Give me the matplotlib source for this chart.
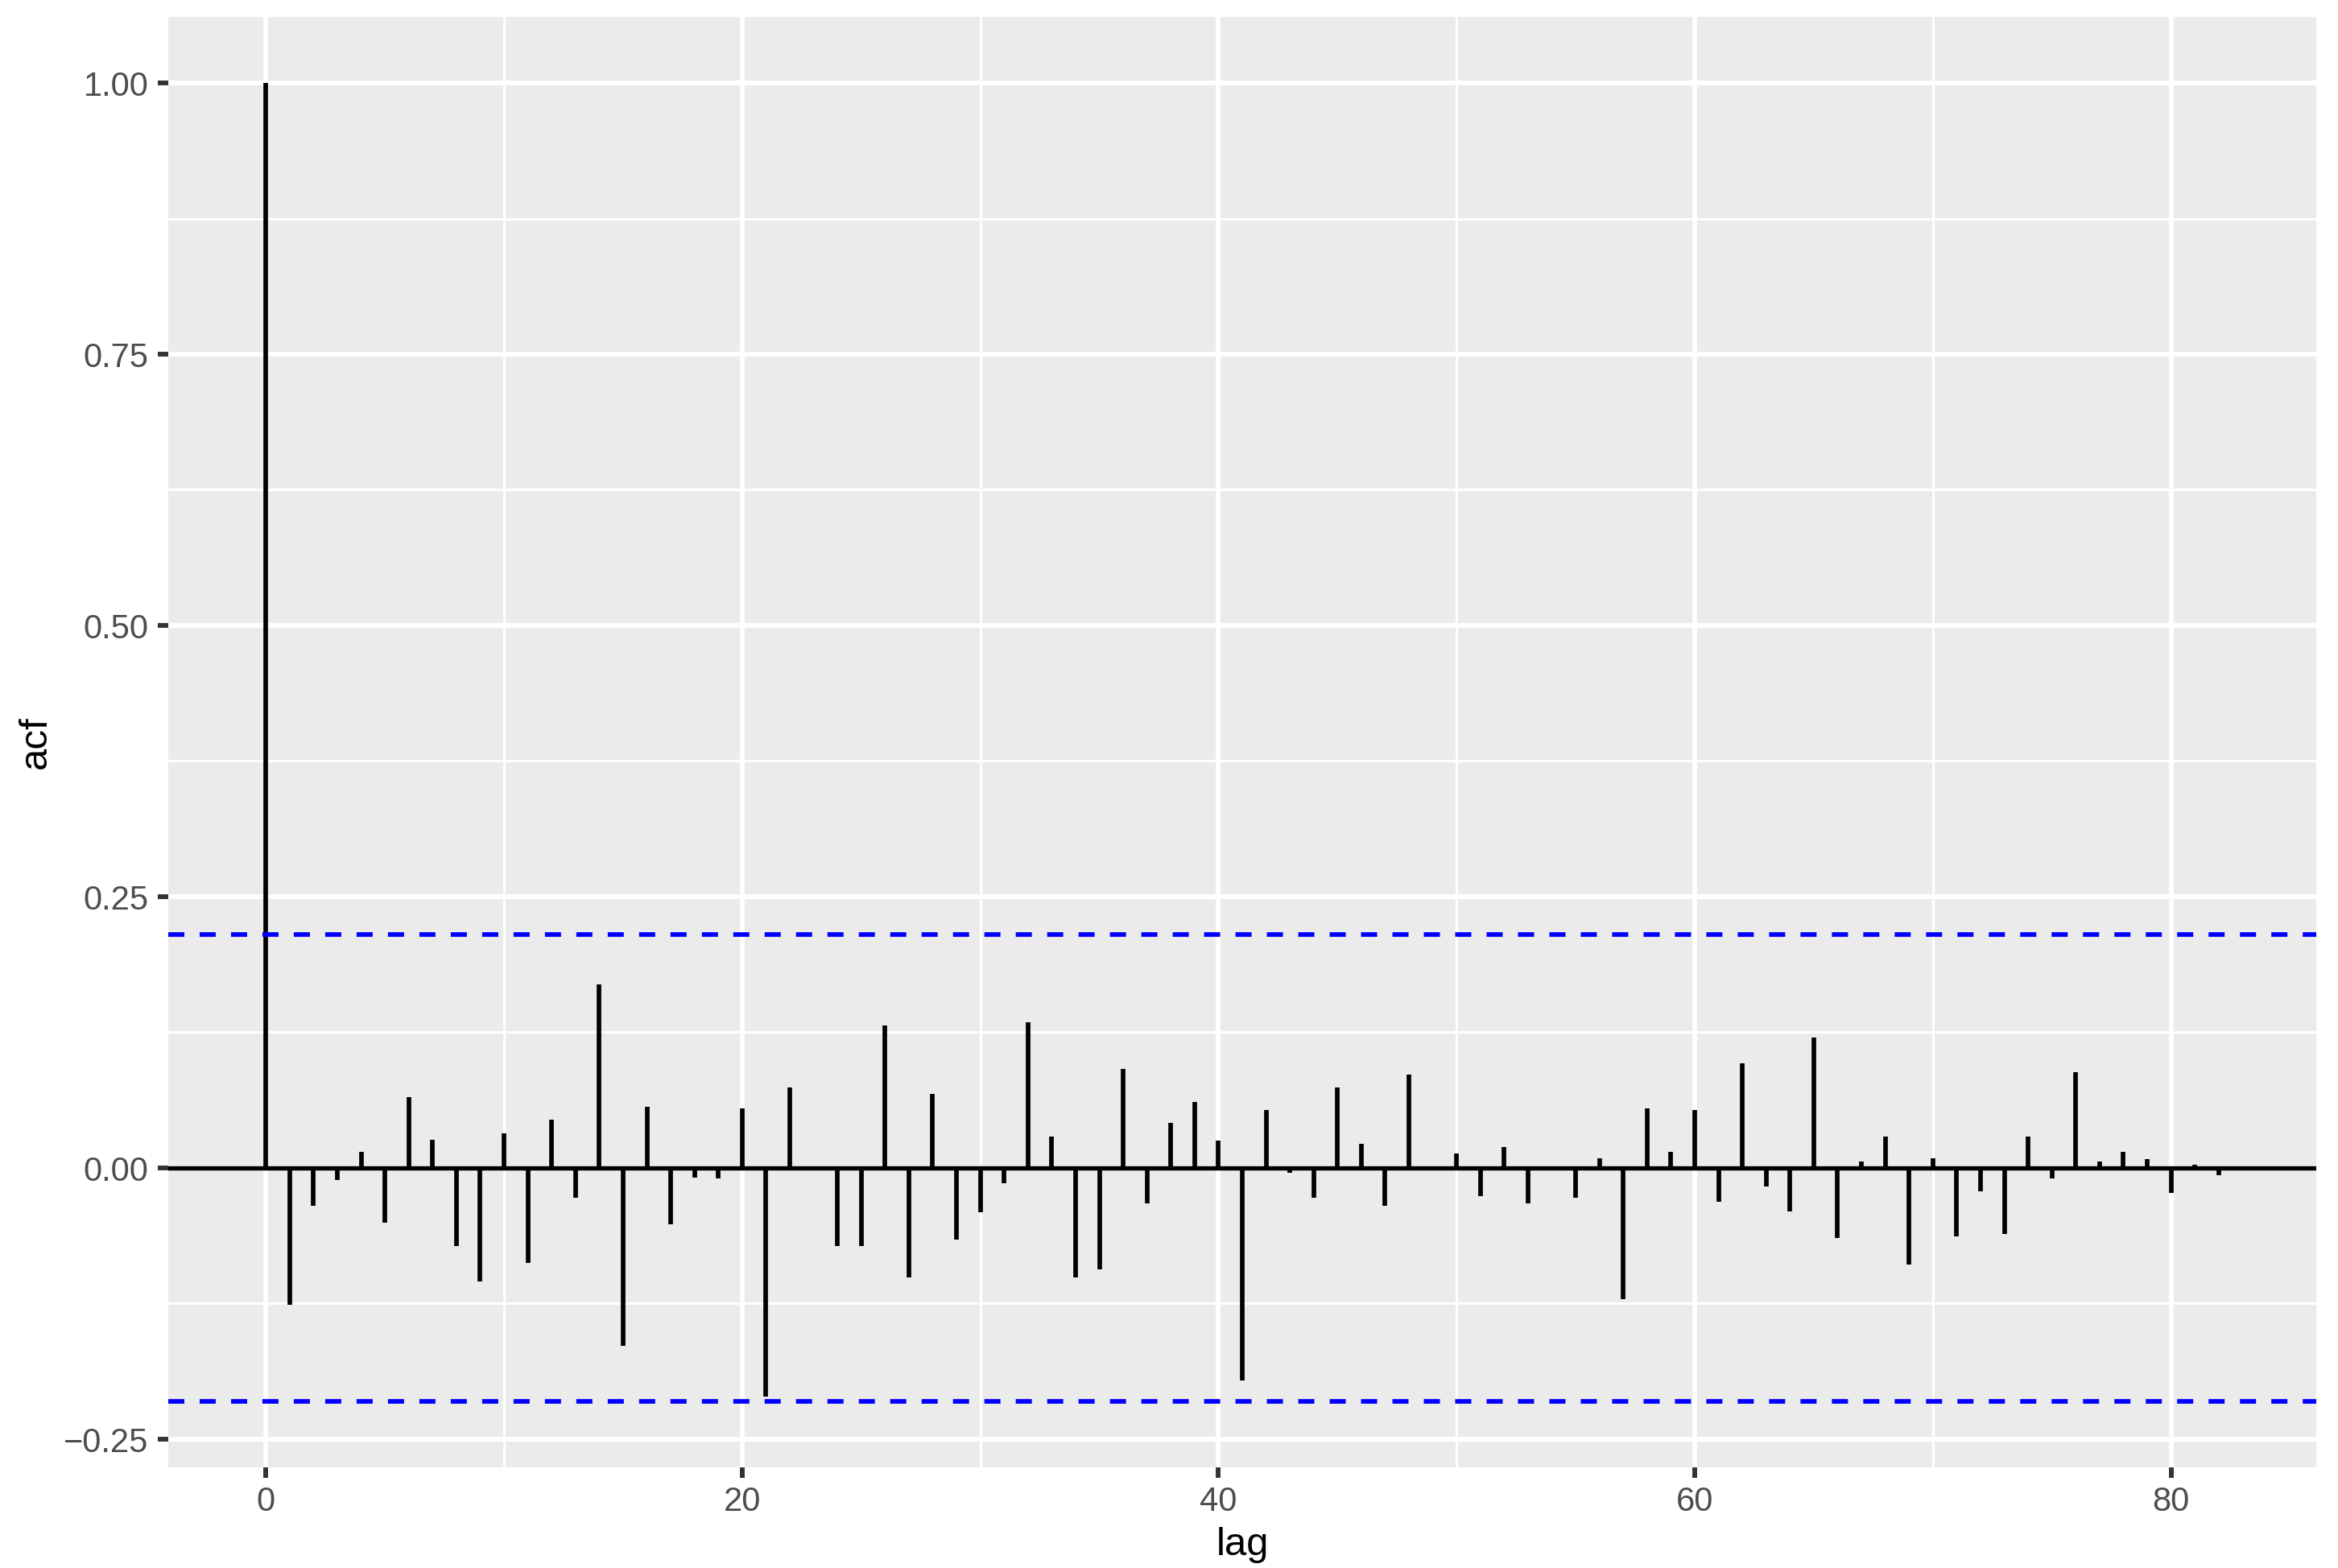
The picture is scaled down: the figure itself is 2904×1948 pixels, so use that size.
import matplotlib
matplotlib.use("Agg")
import matplotlib.pyplot as plt
import numpy as np

# acf values, lags 0..82
lags = list(range(83))
acf = [
    1.0, -0.126, -0.035, -0.011, 0.015, -0.051, 0.065, 0.026, -0.072, -0.105,
    0.032, -0.088, 0.044, -0.028, 0.169, -0.164, 0.056, -0.052, -0.009, -0.010,
    0.055, -0.211, 0.074, 0.001, -0.072, -0.072, 0.131, -0.101, 0.068, -0.066,
    -0.041, -0.014, 0.134, 0.029, -0.101, -0.094, 0.091, -0.033, 0.041, 0.061,
    0.025, -0.196, 0.053, -0.005, -0.028, 0.074, 0.022, -0.035, 0.086, -0.001,
    0.013, -0.026, 0.019, -0.033, 0.001, -0.028, 0.009, -0.121, 0.055, 0.015,
    0.053, -0.031, 0.096, -0.017, -0.040, 0.120, -0.065, 0.006, 0.029, -0.089,
    0.009, -0.063, -0.022, -0.061, 0.029, -0.010, 0.088, 0.006, 0.015, 0.008,
    -0.023, 0.003, -0.007,
]
ci = 0.2151

x_major = [0, 20, 40, 60, 80]
x_minor = [10, 30, 50, 70]
y_major = [-0.25, 0.0, 0.25, 0.5, 0.75, 1.0]
y_major_labels = ["\u22120.25", "0.00", "0.25", "0.50", "0.75", "1.00"]
y_minor = [-0.125, 0.125, 0.375, 0.625, 0.875]

plt.rcParams["font.family"] = ["Liberation Sans", "DejaVu Sans"]

W, H = 2904, 1949
fig = plt.figure(figsize=(W / 300, (H - 0.2) / 300), dpi=300)
left, right, top, bottom = 209, 2877, 22, 1823.5
ax = fig.add_axes([left / W, 1 - bottom / H, (right - left) / W, (bottom - top) / H])
ax.set_facecolor("#EBEBEB")
for spine in ax.spines.values():
    spine.set_visible(False)

# grid
for v in x_minor:
    ax.axvline(v, color="white", lw=0.71, zorder=0)
for v in y_minor:
    ax.axhline(v, color="white", lw=0.71, zorder=0)
for v in x_major:
    ax.axvline(v, color="white", lw=1.42, zorder=0.5)
for v in y_major:
    ax.axhline(v, color="white", lw=1.42, zorder=0.5)

ax.axhline(0, color="black", lw=1.3, zorder=2)
ax.vlines(lags, 0, acf, color="black", lw=1.37, capstyle="butt", zorder=3)
for v in (ci, -ci):
    ax.axhline(v, color="blue", lw=1.37, linestyle=(0, (3.5, 3.33)), zorder=4)

ax.set_xlim(-4.1, 86.1)
lo = -ci - 0.05 * (1.0 + ci)
hi = 1.0 + 0.05 * (1.0 + ci)
ax.set_ylim(lo, hi)

ax.set_xticks(x_major)
ax.set_xticklabels([str(v) for v in x_major])
ax.set_yticks(y_major)
ax.set_yticklabels(y_major_labels)
ax.tick_params(axis="both", length=3.1, width=1.42, color="#333333",
               labelcolor="#4D4D4D", labelsize=10)
ax.tick_params(axis="x", pad=2.4)
ax.tick_params(axis="y", pad=2.8)

fig.text(44 / W, 1 - 922 / H, "acf", rotation=90, ha="center", va="center",
         fontsize=11.8, color="black")
fig.text(1543 / W, 1 - 1931.7 / H, "lag", ha="center", va="baseline",
         fontsize=11.8, color="black")

fig.savefig("out.png", dpi=300, facecolor="white")
